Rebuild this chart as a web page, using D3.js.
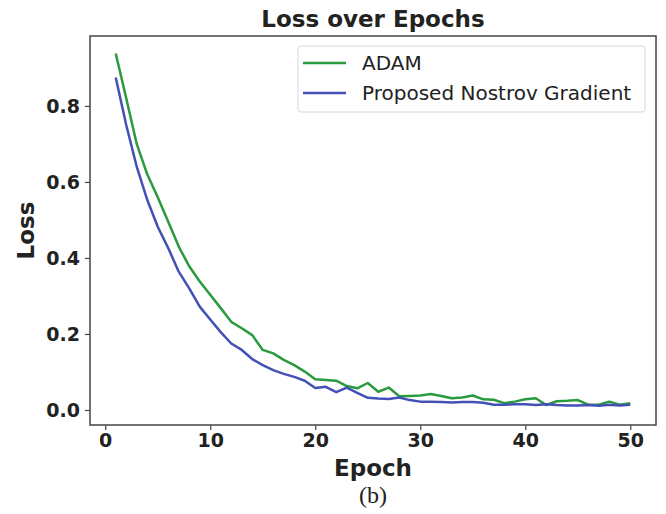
<!DOCTYPE html>
<html>
<head>
<meta charset="utf-8">
<script src="https://cdn.jsdelivr.net/npm/d3@7"></script>
<style>
  body { margin: 0; background: #fff; }
  text { font-family: "DejaVu Sans", sans-serif; }
</style>
</head>
<body>
<div id="chart"></div>
<script>
const epochs = d3.range(1, 51);

const adamLoss = [
  0.938, 0.82, 0.70, 0.62, 0.56, 0.495, 0.43, 0.378, 0.338, 0.303,
  0.268, 0.232, 0.215, 0.197, 0.158, 0.149, 0.132, 0.118, 0.101, 0.081,
  0.079, 0.077, 0.063, 0.057, 0.071, 0.048, 0.059, 0.036, 0.037, 0.038,
  0.042, 0.037, 0.031, 0.033, 0.038, 0.028, 0.027, 0.018, 0.022, 0.028,
  0.031, 0.013, 0.023, 0.024, 0.026, 0.014, 0.014, 0.022, 0.014, 0.018
];

const nesterovLoss = [
  0.875, 0.75, 0.64, 0.553, 0.482, 0.426, 0.364, 0.32, 0.272, 0.238,
  0.205, 0.175, 0.158, 0.134, 0.118, 0.105, 0.095, 0.087, 0.077, 0.058,
  0.061, 0.047, 0.059, 0.045, 0.032, 0.030, 0.029, 0.033, 0.026, 0.022,
  0.022, 0.021, 0.020, 0.021, 0.021, 0.019, 0.014, 0.014, 0.015, 0.015,
  0.013, 0.015, 0.013, 0.012, 0.012, 0.013, 0.011, 0.014, 0.012, 0.014
];

const seriesNames = ["ADAM", "Proposed Nostrov Gradient"];
const seriesColors = ["#2a9a3e", "#4350b5"];
const xTicks = [0, 10, 20, 30, 40, 50];
const yTicks = [0.0, 0.2, 0.4, 0.6, 0.8];

const width = 666;
const height = 514;
const margin = { top: 36, right: 10, bottom: 89, left: 90 };

const svg = d3.select("#chart").append("svg").attr("width", width).attr("height", height);

const x = d3.scaleLinear().domain([-1.45, 52.45]).range([margin.left, width - margin.right]);
const y = d3.scaleLinear().domain([-0.0395, 0.984]).range([height - margin.bottom, margin.top]);

const series = [adamLoss, nesterovLoss].map((vals, i) => ({
  name: seriesNames[i],
  color: seriesColors[i],
  values: epochs.map((e, j) => ({ epoch: e, loss: vals[j] }))
}));

const line = d3.line().x((d) => x(d.epoch)).y((d) => y(d.loss));

svg
  .append("g")
  .selectAll("path")
  .data(series)
  .join("path")
  .attr("fill", "none")
  .attr("stroke", (d) => d.color)
  .attr("stroke-width", 2.5)
  .attr("stroke-linejoin", "round")
  .attr("d", (d) => line(d.values));

// frame
svg
  .append("rect")
  .attr("x", margin.left)
  .attr("y", margin.top)
  .attr("width", width - margin.left - margin.right)
  .attr("height", height - margin.top - margin.bottom)
  .attr("fill", "none")
  .attr("stroke", "#444")
  .attr("stroke-width", 1.5);

const xAxis = svg
  .append("g")
  .attr("transform", `translate(0,${height - margin.bottom})`)
  .call(d3.axisBottom(x).tickValues(xTicks).tickFormat(d3.format("d")).tickSize(5).tickPadding(4));

const yAxis = svg
  .append("g")
  .attr("transform", `translate(${margin.left},0)`)
  .call(d3.axisLeft(y).tickValues(yTicks).tickFormat(d3.format(".1f")).tickSize(5).tickPadding(5));

[xAxis, yAxis].forEach((g) => {
  g.select(".domain").remove();
  g.selectAll(".tick line").attr("stroke", "#444").attr("stroke-width", 1.2);
  g.selectAll(".tick text")
    .attr("fill", "#222")
    .style("font-family", "'DejaVu Sans', sans-serif")
    .style("font-size", "19px")
    .style("font-weight", "bold");
});

svg
  .append("text")
  .attr("x", (margin.left + width - margin.right) / 2)
  .attr("y", 27)
  .attr("text-anchor", "middle")
  .attr("fill", "#222")
  .style("font-size", "23px")
  .style("font-weight", "bold")
  .text("Loss over Epochs");

svg
  .append("text")
  .attr("x", (margin.left + width - margin.right) / 2)
  .attr("y", 476)
  .attr("text-anchor", "middle")
  .attr("fill", "#222")
  .style("font-size", "23px")
  .style("font-weight", "bold")
  .text("Epoch");

svg
  .append("text")
  .attr("transform", `translate(34,${(margin.top + height - margin.bottom) / 2}) rotate(-90)`)
  .attr("text-anchor", "middle")
  .attr("fill", "#222")
  .style("font-size", "23px")
  .style("font-weight", "bold")
  .text("Loss");

svg
  .append("text")
  .attr("x", (margin.left + width - margin.right) / 2)
  .attr("y", 503)
  .attr("text-anchor", "middle")
  .attr("fill", "#222")
  .style("font-family", "'Liberation Serif', serif")
  .style("font-size", "24px")
  .text("(b)");

// legend
const legend = svg.append("g").attr("transform", "translate(298,46)");

legend
  .append("rect")
  .attr("width", 347)
  .attr("height", 66)
  .attr("rx", 3)
  .attr("fill", "#fff")
  .attr("stroke", "#d8d8d8");

const items = legend
  .selectAll("g.item")
  .data(series)
  .join("g")
  .attr("class", "item")
  .attr("transform", (d, i) => `translate(0,${17 + i * 30})`);

items
  .append("line")
  .attr("x1", 5)
  .attr("x2", 48)
  .attr("stroke", (d) => d.color)
  .attr("stroke-width", 2.5);

items
  .append("text")
  .attr("x", 64)
  .attr("dy", "0.35em")
  .attr("fill", "#222")
  .style("font-size", "20px")
  .text((d) => d.name);
</script>
</body>
</html>
